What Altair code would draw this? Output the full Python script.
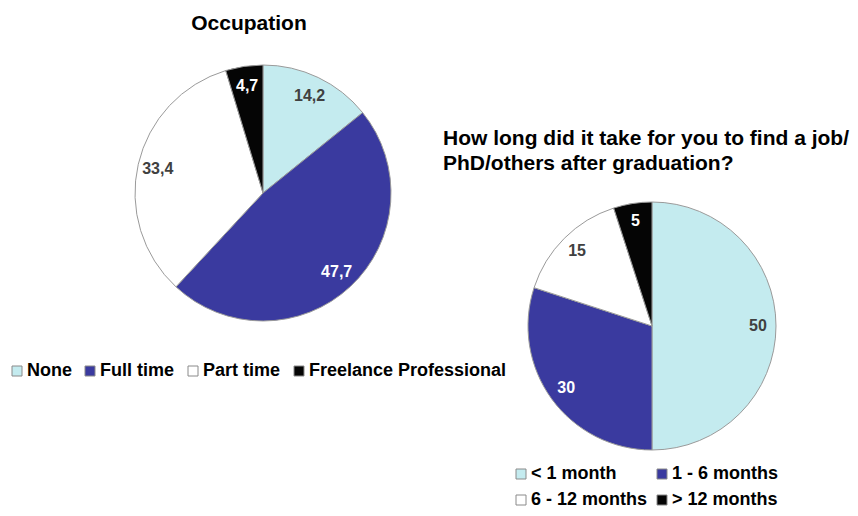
import altair as alt
import pandas as pd

# ---- data ----
occ_cats = ["None", "Full time", "Part time", "Freelance Professional"]
occ_vals = [14.2, 47.7, 33.4, 4.7]
occ_labels = ["14,2", "47,7", "33,4", "4,7"]

dur_cats = ["< 1 month", "1 - 6 months", "6 - 12 months", "> 12 months"]
dur_vals = [50, 30, 15, 5]
dur_labels = ["50", "30", "15", "5"]

slice_colors = ["#c4ebef", "#3a3a9f", "#ffffff", "#050505"]
white_label_cats = ["Full time", "Freelance Professional", "1 - 6 months", "> 12 months"]

occ_df = pd.DataFrame({"cat": occ_cats, "val": occ_vals, "label": occ_labels,
                       "idx": list(range(len(occ_cats)))})
dur_df = pd.DataFrame({"cat": dur_cats, "val": dur_vals, "label": dur_labels,
                       "idx": list(range(len(dur_cats)))})

FONT = "Liberation Sans"


def legend(x, y, cols, colpad, rowpad):
    return alt.Legend(
        orient="none", legendX=x, legendY=y, columns=cols, direction="horizontal",
        title=None,
        symbolType="square", symbolSize=100, symbolStrokeColor="#8a8a8a",
        symbolStrokeWidth=1, symbolOpacity=1,
        labelFont=FONT, labelFontSize=18, labelFontWeight="bold",
        labelColor="#000000", labelOffset=1, labelLimit=400,
        columnPadding=colpad, rowPadding=rowpad, padding=0,
    )


def pie(df, cats, cx, cy, r, lr, leg):
    base = alt.Chart(df).encode(
        theta=alt.Theta("val:Q", stack=True),
        order=alt.Order("idx:Q"),
        x=alt.value(cx), y=alt.value(cy),
    )
    arcs = base.mark_arc(radius=r, stroke="#9a9a9a", strokeWidth=1).encode(
        color=alt.Color("cat:N", scale=alt.Scale(domain=cats, range=slice_colors),
                        legend=leg)
    )
    text = base.mark_text(radius=lr, font=FONT, fontSize=16, fontWeight="bold",
                          align="center", baseline="middle").encode(
        text="label:N",
        color=alt.when(alt.FieldOneOfPredicate(field="cat", oneOf=white_label_cats))
        .then(alt.value("#ffffff")).otherwise(alt.value("#404040")),
    )
    return arcs, text


arcs1, text1 = pie(occ_df, occ_cats, 255, 185, 128, 108, legend(0, 354, 4, 9, 9))
arcs2, text2 = pie(dur_df, dur_cats, 644, 318, 124, 106, legend(504, 457, 2, 5, 8))

title1 = alt.Chart(pd.DataFrame({"t": ["Occupation"]})).mark_text(
    font=FONT, fontSize=21, fontWeight="bold", align="center", baseline="middle",
    color="#000000").encode(text="t:N", x=alt.value(241), y=alt.value(16))

title2 = alt.Chart(pd.DataFrame({"t": [0]})).mark_text(
    font=FONT, fontSize=21, fontWeight="bold", align="left", baseline="middle",
    color="#000000", lineHeight=25,
    text=["How long did it take for you to find a job/", "PhD/others after graduation?"],
).encode(x=alt.value(435), y=alt.value(131))

chart = alt.layer(arcs1, text1, arcs2, text2, title1, title2).resolve_scale(
    color="independent"
).properties(
    width=842, height=500, padding=0,
    autosize=alt.AutoSizeParams(type="none"),
).configure_view(stroke=None)

chart.save("out.html", embed_options={"renderer": "svg", "actions": False})
